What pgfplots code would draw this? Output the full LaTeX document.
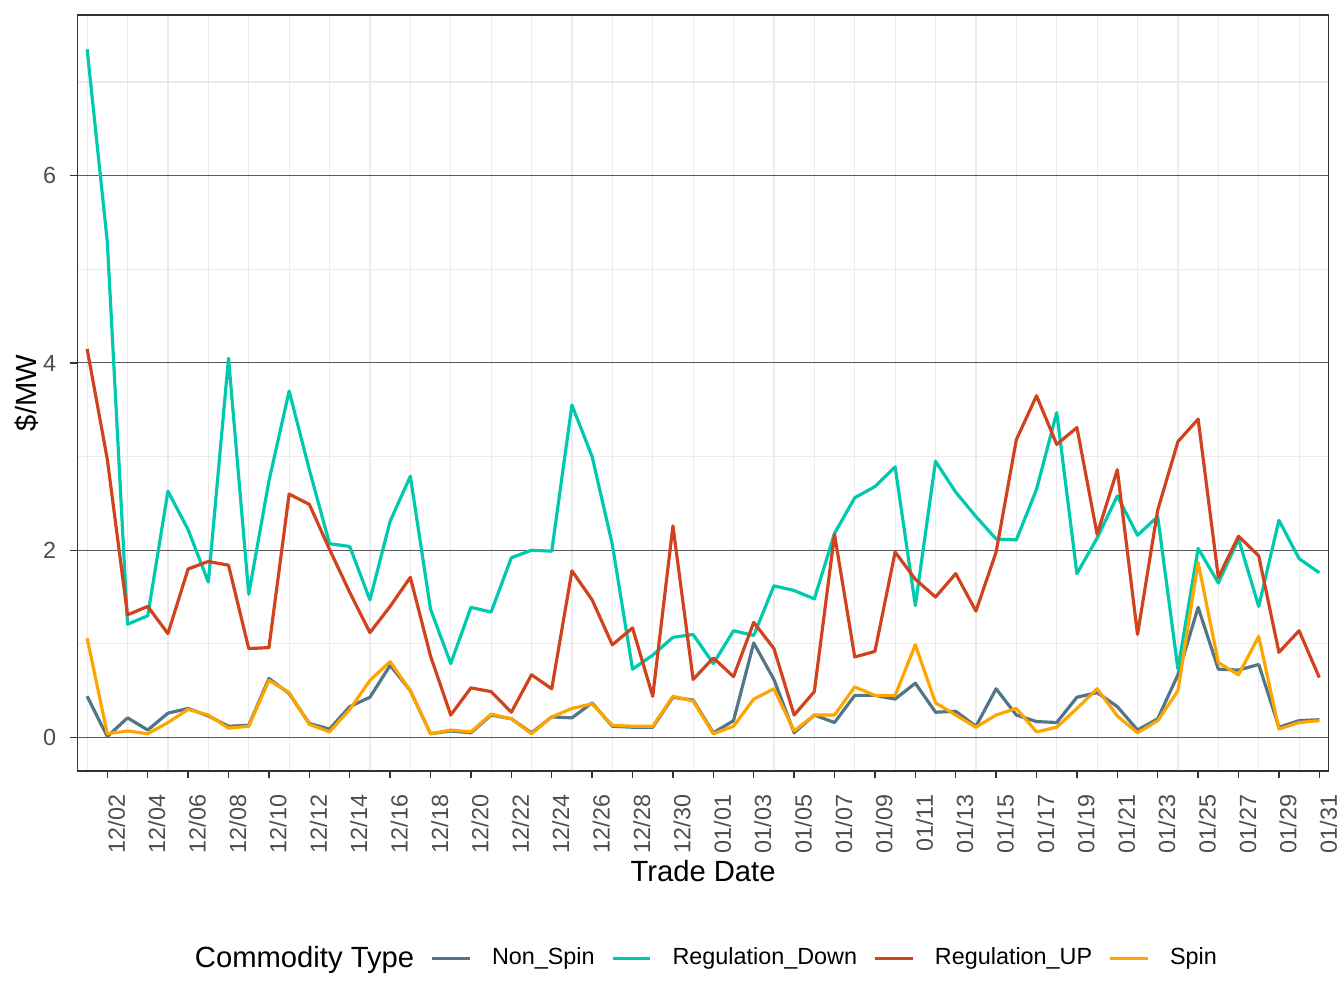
\documentclass[border=0pt]{standalone}
\usepackage{fontspec}
\setmainfont{Liberation Sans}
\usepackage{pgfplots}
\pgfplotsset{compat=1.18}
\usepackage{pgfplotstable}

\definecolor{cNS}{HTML}{527588}
\definecolor{cRD}{HTML}{00C9AD}
\definecolor{cRU}{HTML}{D1431F}
\definecolor{cSP}{HTML}{FFA500}
\definecolor{tickgray}{HTML}{4D4D4D}

\pgfplotstableread{
i NS RD RU SP
0 0.44 7.35 4.15 1.06
1 0.01 5.29 2.97 0.04
2 0.21 1.21 1.31 0.07
3 0.08 1.30 1.40 0.04
4 0.26 2.63 1.11 0.16
5 0.31 2.22 1.80 0.30
6 0.23 1.66 1.88 0.24
7 0.12 4.05 1.84 0.10
8 0.13 1.53 0.95 0.12
9 0.63 2.74 0.96 0.61
10 0.47 3.70 2.60 0.48
11 0.15 2.86 2.49 0.14
12 0.09 2.07 2.01 0.06
13 0.33 2.04 1.55 0.30
14 0.43 1.47 1.12 0.61
15 0.77 2.31 1.40 0.81
16 0.50 2.79 1.71 0.50
17 0.04 1.37 0.87 0.04
18 0.07 0.79 0.24 0.08
19 0.05 1.39 0.53 0.06
20 0.24 1.34 0.49 0.25
21 0.20 1.92 0.27 0.20
22 0.05 2.00 0.67 0.04
23 0.22 1.99 0.52 0.22
24 0.21 3.55 1.78 0.31
25 0.37 3.00 1.47 0.36
26 0.12 2.06 0.99 0.13
27 0.11 0.73 1.17 0.12
28 0.11 0.88 0.44 0.12
29 0.43 1.07 2.26 0.44
30 0.40 1.10 0.62 0.39
31 0.05 0.79 0.85 0.04
32 0.18 1.14 0.65 0.12
33 1.01 1.09 1.23 0.41
34 0.62 1.62 0.95 0.52
35 0.05 1.57 0.24 0.07
36 0.24 1.48 0.49 0.24
37 0.16 2.18 2.17 0.24
38 0.45 2.56 0.86 0.54
39 0.45 2.68 0.92 0.45
40 0.41 2.89 1.98 0.45
41 0.58 1.41 1.69 0.99
42 0.27 2.95 1.50 0.37
43 0.28 2.62 1.75 0.24
44 0.12 2.36 1.35 0.11
45 0.52 2.12 1.98 0.24
46 0.24 2.11 3.18 0.31
47 0.17 2.65 3.65 0.06
48 0.16 3.47 3.13 0.11
49 0.43 1.75 3.31 0.31
50 0.48 2.13 2.17 0.52
51 0.33 2.58 2.86 0.23
52 0.08 2.16 1.10 0.05
53 0.20 2.36 2.43 0.18
54 0.67 0.73 3.16 0.50
55 1.39 2.02 3.40 1.87
56 0.73 1.65 1.71 0.80
57 0.72 2.12 2.15 0.67
58 0.78 1.40 1.94 1.08
59 0.11 2.32 0.91 0.09
60 0.18 1.91 1.14 0.16
61 0.19 1.76 0.64 0.18
}\data

\begin{document}
\begin{tikzpicture}
\useasboundingbox (0,0) rectangle (504bp,378bp);
\begin{axis}[
  at={(29bp,88.9bp)}, anchor=south west,
  scale only axis, width=469.3bp, height=283.5bp,
  xmin=-0.485, xmax=61.47, ymin=-0.357, ymax=7.717,
  axis line style={line width=0.5bp, color=black!80},
  tick style={line width=0.5bp, color=black!80},
  major tick length=2.75bp, minor tick length=0pt,
  tick align=outside, xtick pos=bottom, ytick pos=left,
  xtick={1,3,...,61},
  xticklabels={12/02,12/04,12/06,12/08,12/10,12/12,12/14,12/16,12/18,12/20,12/22,12/24,12/26,12/28,12/30,01/01,01/03,01/05,01/07,01/09,01/11,01/13,01/15,01/17,01/19,01/21,01/23,01/25,01/27,01/29,01/31},
  minor xtick={0,2,...,60},
  ytick={0,2,4,6}, minor ytick={1,3,5,7},
  xmajorgrids=false, xminorgrids=true, ymajorgrids=true, yminorgrids=true,
  major grid style={line width=0.35bp, color=black!65},
  minor grid style={line width=0.45bp, color=black!8},
  /pgf/number format/assume math mode=true,
  tick label style={font=\fontsize{8.8}{10}\selectfont, text=tickgray},
  xticklabel style={yshift=-6bp, rotate=90, anchor=north east, inner sep=0pt},
  yticklabel style={xshift=-5bp, anchor=east, inner sep=0pt},
  xlabel={Trade Date}, ylabel={\$/MW},
  every axis x label/.style={at={(rel axis cs:0.5,0)}, yshift=-37.5bp, anchor=center, font=\fontsize{11}{13}\selectfont},
  every axis y label/.style={at={(rel axis cs:0,0.5)}, xshift=-19bp, rotate=90, anchor=center, font=\fontsize{11}{13}\selectfont},
  legend columns=5,
  legend cell align=left,
  legend image code/.code={\draw[#1] (0bp,0bp) -- (14bp,0bp);},
  legend style={draw=none, fill=none, at={(0.494,-0.248)}, anchor=center, inner sep=0pt,
    font=\fontsize{8.8}{10}\selectfont, nodes={inner sep=0pt},
    /tikz/every odd column/.append style={column sep=7.75bp},
    /tikz/every even column/.append style={column sep=6.25bp}},
]
\addlegendimage{empty legend}
\addlegendentry{\fontsize{11}{13}\selectfont Commodity Type\hspace{1.5bp}}
\addplot[cNS, line width=1.2pt, line join=round] table[x=i,y=NS]{\data};
\addlegendentry{Non\_Spin}
\addplot[cRD, line width=1.2pt, line join=round] table[x=i,y=RD]{\data};
\addlegendentry{Regulation\_Down}
\addplot[cRU, line width=1.2pt, line join=round] table[x=i,y=RU]{\data};
\addlegendentry{Regulation\_UP}
\addplot[cSP, line width=1.2pt, line join=round] table[x=i,y=SP]{\data};
\addlegendentry{Spin}
\end{axis}
\end{tikzpicture}
\end{document}
